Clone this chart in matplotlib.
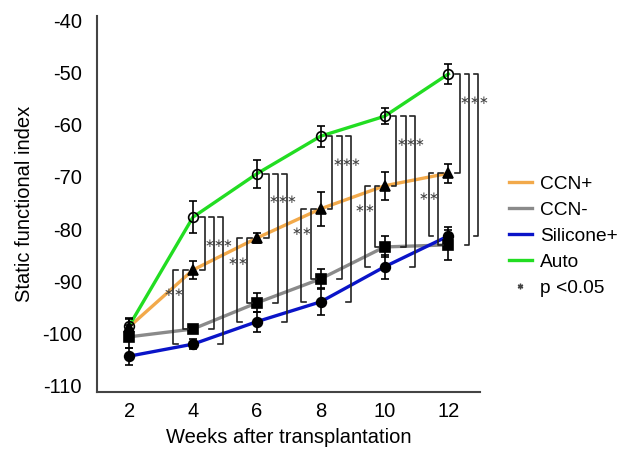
import matplotlib
matplotlib.use("Agg")
import matplotlib.pyplot as plt
from matplotlib.lines import Line2D

plt.rcParams['font.family'] = ['Liberation Sans', 'DejaVu Sans']
plt.rcParams['axes.unicode_minus'] = False

weeks = [2, 4, 6, 8, 10, 12]
ccn_pos = [-98.7, -87.8, -81.7, -76.1, -71.7, -69.3]
ccn_pos_err = [1.5, 1.8, 1.0, 3.2, 2.7, 1.8]
ccn_neg = [-100.6, -99.1, -94.1, -89.5, -83.4, -83.0]
ccn_neg_err = [2.2, 0.5, 1.8, 1.8, 2.0, 2.9]
silicone = [-104.3, -102.0, -97.7, -93.9, -87.2, -81.3]
silicone_err = [1.6, 1.0, 1.9, 2.5, 2.3, 1.7]
auto = [-98.5, -77.7, -69.4, -62.2, -58.4, -50.3]
auto_err = [1.5, 3.0, 2.7, 2.0, 1.5, 1.9]

labels = ["CCN+", "CCN-", "Silicone+", "Auto"]
colors = ["#F2A94A", "#8A8A8A", "#0A14C8", "#22DD22"]
yticks = [-110, -100, -90, -80, -70, -60, -50, -40]
sig_label = "p <0.05"

fig = plt.figure(figsize=(6.27, 4.49), dpi=100)
ax = fig.add_axes([0.155, 0.127, 0.611, 0.837])

series = [(ccn_pos, ccn_pos_err, '^', 'k'),
          (ccn_neg, ccn_neg_err, 's', 'k'),
          (silicone, silicone_err, 'o', 'k'),
          (auto, auto_err, 'o', 'none')]

for (vals, errs, mk, fc), col, lab in zip(series, colors, labels):
    ax.plot(weeks, vals, color=col, lw=2.4, label=lab, zorder=2)
for (vals, errs, mk, fc) in series:
    ax.errorbar(weeks, vals, yerr=errs, fmt=mk, ms=7, mfc=fc, mec='k', mew=1.2,
                ecolor='k', elinewidth=1.2, capsize=3, capthick=1.2, zorder=3)

# significance brackets
tick = 0.15
bk = dict(color='#222222', lw=1.2, zorder=4, clip_on=False)
star_kw = dict(fontsize=8.5, color='#444444', ha='center', va='center',
               family='DejaVu Sans', zorder=5)
for i in range(1, len(weeks)):
    t = weeks[i]
    # right brackets: Auto vs others
    top = auto[i]
    for off, bot in zip([0.37, 0.66, 0.94], [ccn_pos[i], ccn_neg[i], silicone[i]]):
        x = t + off
        ax.plot([x - tick, x, x, x - tick], [top, top, bot, bot], **bk)
        ax.text(x + 0.15, top - 5.0, "\u2217", **star_kw)
    # left brackets: CCN+ vs CCN-, Silicone+
    top = ccn_pos[i]
    for off, bot in zip([-0.62, -0.31], [silicone[i], ccn_neg[i]]):
        x = t + off
        ax.plot([x + tick, x, x, x + tick], [top, top, bot, bot], **bk)
        ax.text(x - 0.15, top - 4.4, "\u2217", **star_kw)

ax.set_xlim(1, 13)
ax.set_ylim(-111.15, -39.24)
ax.set_xticks(weeks)
ax.set_yticks(yticks)
ax.tick_params(length=0, labelsize=14.5)
ax.tick_params(axis='y', pad=11)
ax.tick_params(axis='x', pad=7)
for s in ['top', 'right']:
    ax.spines[s].set_visible(False)
for s in ['left', 'bottom']:
    ax.spines[s].set_color('#444444')
    ax.spines[s].set_linewidth(1.5)
ax.set_xlabel("Weeks after transplantation", fontsize=14.5, labelpad=5)
ax.set_ylabel("Static functional index", fontsize=14.5, labelpad=6)

handles = [Line2D([], [], color=c, lw=2.4) for c in colors]
handles.append(Line2D([], [], marker=(6, 2, 0), ms=4, color='#444444', ls='none'))
fig.legend(handles, labels + [sig_label], loc='center left',
           bbox_to_anchor=(0.79, 0.474), frameon=False, fontsize=13.8,
           handlelength=1.2, handletextpad=0.45, labelspacing=0.45,
           borderpad=0.2)

fig.savefig("out.png", dpi=100)
